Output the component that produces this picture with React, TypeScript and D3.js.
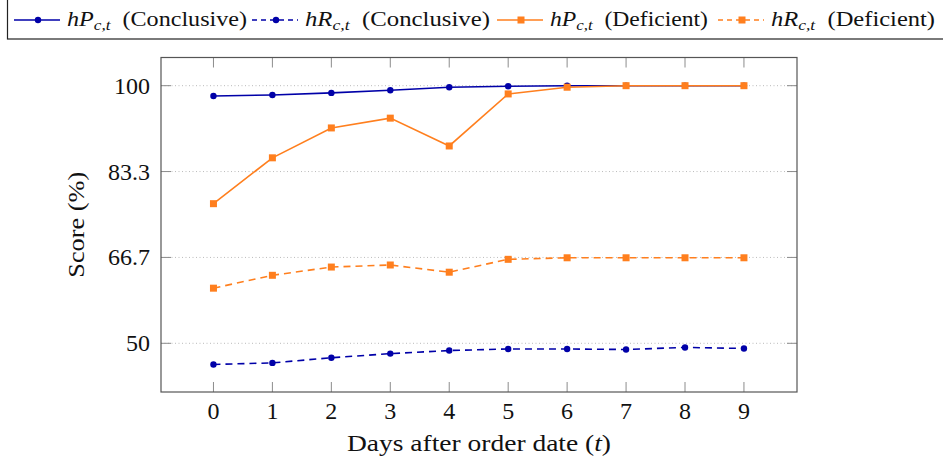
import * as d3 from 'd3';

// Data
const days = [0, 1, 2, 3, 4, 5, 6, 7, 8, 9];
const hPConclusive = [98.0, 98.2, 98.6, 99.1, 99.7, 99.9, 100, 100, 100, 100];
const hRConclusive = [45.9, 46.2, 47.2, 48.0, 48.6, 48.9, 48.9, 48.8, 49.2, 49.0];
const hPDeficient = [77.1, 86.0, 91.8, 93.7, 88.3, 98.4, 99.7, 100, 100, 100];
const hRDeficient = [60.7, 63.2, 64.8, 65.2, 63.8, 66.3, 66.6, 66.6, 66.6, 66.6];
const yTicks = [50, 66.667, 83.333, 100];
const yTickLabels = ['50', '66.7', '83.3', '100'];

const BLUE = '#0000a8';
const ORANGE = '#ff7f1e';
const FONT = "'Liberation Serif', 'DejaVu Serif', serif";

type Series = { name: string, values: number[], color: string, dashed: boolean, marker: 'circle' | 'square', group: string };

const series: Series[] = [
    { name: 'P', values: hPConclusive, color: BLUE, dashed: false, marker: 'circle', group: 'Conclusive' },
    { name: 'R', values: hRConclusive, color: BLUE, dashed: true, marker: 'circle', group: 'Conclusive' },
    { name: 'P', values: hPDeficient, color: ORANGE, dashed: false, marker: 'square', group: 'Deficient' },
    { name: 'R', values: hRDeficient, color: ORANGE, dashed: true, marker: 'square', group: 'Deficient' },
];

// legend layout: line start and text width of each entry
const legendX = [14, 252, 497, 718];
const legendTextW = [180, 185, 158, 164];

function Marker(props: { kind: 'circle' | 'square', x: number, y: number, color: string }) {
    if (props.kind === 'circle') return <circle cx={props.x} cy={props.y} r={3.2} fill={props.color} />;
    return <rect x={props.x - 3.5} y={props.y - 3.5} width={7} height={7} fill={props.color} />;
}

export default function App() {
    const width = 943, height = 463;
    const left = 161, right = 797, top = 57.5, bottom = 392;

    const x = d3.scaleLinear().domain([-0.89, 9.9]).range([left, right]);
    const y = d3.scaleLinear().domain([40.55, 105.47]).range([bottom, top]);

    const line = d3.line<number>()
        .x((d, i) => x(days[i]))
        .y(d => y(d));

    const tickColor = '#8c8c8c';
    const tickLen = 10;

    return (
        <svg width={width} height={height} style={{ position: 'absolute', left: 0, top: 0, background: '#fff' }}
            fontFamily={FONT}>
            {/* Legend */}
            <rect x={7.5} y={-5} width={950} height={44} fill="white" stroke="#222" strokeWidth={1.2} />
            {series.map((s, i) => {
                const lx = legendX[i];
                return (
                    <g key={i}>
                        <line x1={lx} x2={lx + 46} y1={20} y2={20} stroke={s.color} strokeWidth={1.6}
                            strokeDasharray={s.dashed ? '5,4' : undefined} />
                        <Marker kind={s.marker} x={lx + 24} y={20} color={s.color} />
                        <text x={lx + 53} y={26} fontSize={21} fill="#111"
                            textLength={legendTextW[i]} lengthAdjust="spacingAndGlyphs">
                            <tspan fontStyle="italic">h{s.name}</tspan>
                            <tspan fontStyle="italic" fontSize={15} dy={4}>c,t</tspan>
                            <tspan dy={-4}>{'\u00a0\u00a0(' + s.group + ')'}</tspan>
                        </text>
                    </g>
                );
            })}

            {/* Grid */}
            {yTicks.map((t, i) => (
                <line key={'g' + i} x1={left} x2={right} y1={y(t)} y2={y(t)} stroke="#bbb" strokeWidth={1}
                    strokeDasharray="1,2.5" />
            ))}

            {/* Ticks */}
            {days.map(d => (
                <g key={'xt' + d}>
                    <line x1={x(d)} x2={x(d)} y1={bottom} y2={bottom - tickLen} stroke={tickColor} />
                    <line x1={x(d)} x2={x(d)} y1={top} y2={top + tickLen} stroke={tickColor} />
                    <text x={x(d)} y={419} fontSize={24} textAnchor="middle" fill="#111">{d}</text>
                </g>
            ))}
            {yTicks.map((t, i) => (
                <g key={'yt' + i}>
                    <line x1={left} x2={left + tickLen} y1={y(t)} y2={y(t)} stroke={tickColor} />
                    <line x1={right} x2={right - tickLen} y1={y(t)} y2={y(t)} stroke={tickColor} />
                    <text x={150} y={y(t) + 8} fontSize={24} textAnchor="end" fill="#111">{yTickLabels[i]}</text>
                </g>
            ))}

            {/* Lines */}
            {series.map((s, i) => (
                <g key={'s' + i}>
                    <path d={line(s.values) || ''} fill="none" stroke={s.color} strokeWidth={1.6}
                        strokeDasharray={s.dashed ? '7,5' : undefined} />
                    {s.values.map((v, j) => (
                        <Marker key={j} kind={s.marker} x={x(days[j])} y={y(v)} color={s.color} />
                    ))}
                </g>
            ))}

            {/* Frame */}
            <rect x={left} y={top} width={right - left} height={bottom - top} fill="none" stroke="#555" strokeWidth={1.2} />

            {/* Axis labels */}
            <text x={(left + right) / 2} y={451} fontSize={24} textAnchor="middle" fill="#111"
                textLength={264} lengthAdjust="spacingAndGlyphs">
                Days after order date (<tspan fontStyle="italic">t</tspan>)
            </text>
            <text transform={`translate(84, ${(top + bottom) / 2}) rotate(-90)`} fontSize={24} textAnchor="middle" fill="#111"
                textLength={106} lengthAdjust="spacingAndGlyphs">
                Score (%)
            </text>
        </svg>
    );
}
